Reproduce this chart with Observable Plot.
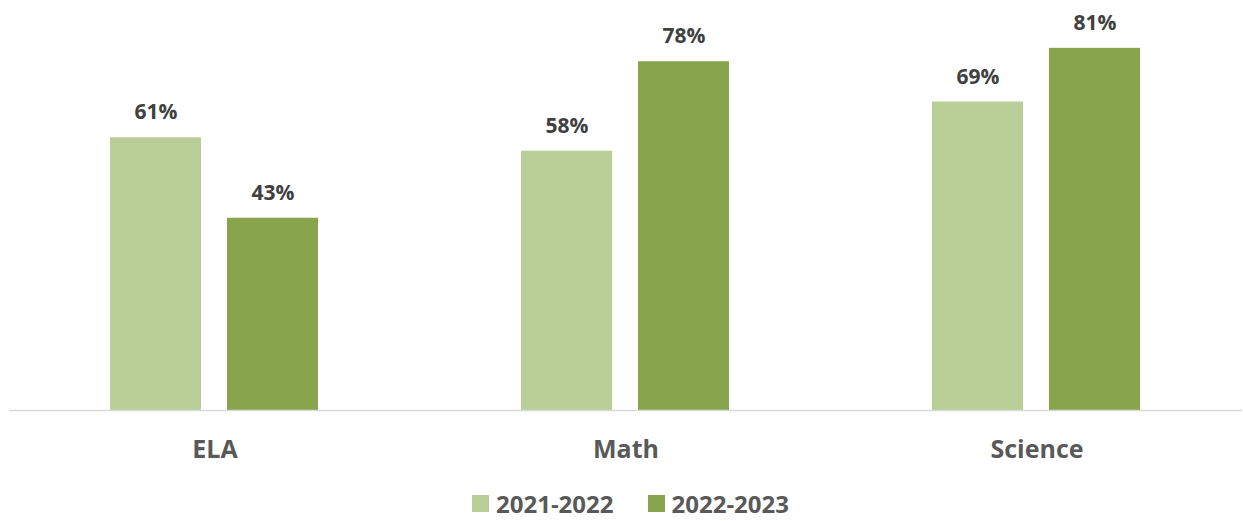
<!DOCTYPE html>
<html>
<head>
<meta charset="utf-8">
<script src="https://cdn.jsdelivr.net/npm/d3@7"></script>
<script src="https://cdn.jsdelivr.net/npm/@observablehq/plot@0.6"></script>
<style>
  html, body { margin: 0; padding: 0; background: #fff; }
  body { width: 1243px; height: 521px; position: relative; overflow: hidden; font-family: "Open Sans", sans-serif; }
  #legend { position: absolute; left: 0; top: 487px; width: 1243px; height: 33px; line-height: 33px; padding-left: 18px; box-sizing: border-box; display: flex; justify-content: center; align-items: center; font-weight: 700; font-size: 24px; color: #595959; }
  .item { display: flex; align-items: center; margin: 0 17px; }
  .sw { width: 17px; height: 17px; margin-right: 7px; }
</style>
</head>
<body>
<div id="chart"></div>
<div id="legend"></div>
<script>
const categories = ["ELA", "Math", "Science"];
const years = ["2021-2022", "2022-2023"];
const values2122 = [61, 58, 69];
const values2223 = [43, 78, 81];
const colors = ["#BACF97", "#88A54D"];

const data = categories.flatMap((c, i) => [
  {category: c, year: years[0], value: values2122[i]},
  {category: c, year: years[1], value: values2223[i]}
]);

const chart = Plot.plot({
  width: 1243,
  height: 480,
  marginLeft: 8,
  marginRight: 0,
  marginTop: 0,
  marginBottom: 70,
  style: {fontFamily: "Open Sans", color: "#595959", background: "#fff"},
  fx: {domain: categories, padding: 0, label: null},
  x: {domain: years, paddingInner: 0.22, paddingOuter: 0.854, axis: null},
  y: {domain: [0, 91.7], axis: null},
  color: {domain: years, range: colors},
  marks: [
    Plot.barY(data, {fx: "category", x: "year", y: "value", fill: "year"}),
    Plot.ruleY([0], {stroke: "#D9D9D9", strokeWidth: 1.5}),
    Plot.text(data, {fx: "category", x: "year", y: "value", text: d => d.value + "%", dy: -25, fontSize: 21, fontWeight: "bold", fill: "#404040"}),
    Plot.axisFx({anchor: "bottom", tickSize: 0, tickPadding: 30, fontSize: 25, fontWeight: "bold", label: null})
  ]
});
document.getElementById("chart").appendChild(chart);

const legend = document.getElementById("legend");
years.forEach((y, i) => {
  const item = document.createElement("div");
  item.className = "item";
  const sw = document.createElement("div");
  sw.className = "sw";
  sw.style.background = colors[i];
  const t = document.createElement("span");
  t.textContent = y;
  item.appendChild(sw);
  item.appendChild(t);
  legend.appendChild(item);
});
</script>
</body>
</html>
